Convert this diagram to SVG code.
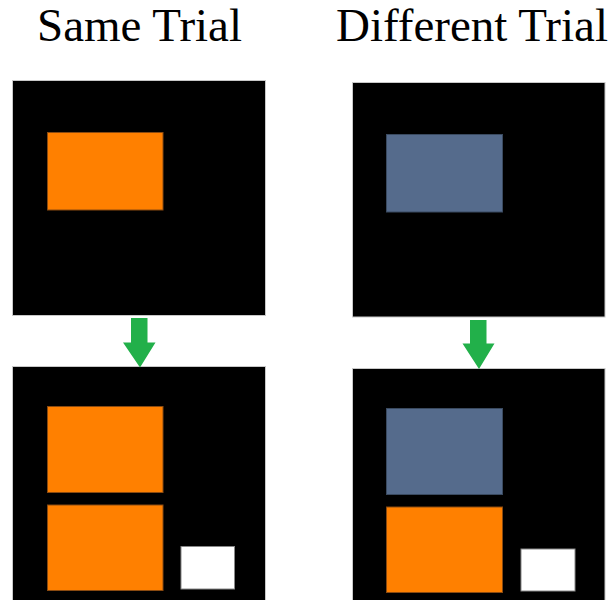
<svg xmlns="http://www.w3.org/2000/svg" width="616" height="600" viewBox="0 0 616 600">
<style>
.title{font-family:"Liberation Serif","Times New Roman",serif;font-size:47px;fill:#000}
.screen{fill:#000;stroke:#c8c8c8;stroke-width:1}
.orange{fill:#ff8000;stroke:#8a4a10;stroke-width:1}
.blue{fill:#556b8c;stroke:#3a4a60;stroke-width:1}
.probe{fill:#fff;stroke:#888;stroke-width:1}
.arrow{fill:#22b04a}
</style>
<rect width="616" height="600" fill="#fff"/>
<text class="title" x="37" y="41">Same Trial</text>
<text class="title" x="336" y="41">Different Trial</text>
<g id="same-study">
<rect class="screen" x="12.5" y="80.5" width="253" height="235"/>
<rect class="orange" x="47.5" y="132.5" width="115.5" height="77.5"/>
</g>
<g id="same-test">
<rect class="screen" x="12.5" y="366.5" width="253" height="240"/>
<rect class="orange" x="47.5" y="406.5" width="115.5" height="86"/>
<rect class="orange" x="47.5" y="505" width="115.5" height="85.5"/>
<rect class="probe" x="181" y="546.5" width="53.5" height="42.5"/>
</g>
<g id="diff-study">
<rect class="screen" x="352.5" y="82.5" width="252.5" height="234.5"/>
<rect class="blue" x="386.5" y="134.5" width="116" height="77.5"/>
</g>
<g id="diff-test">
<rect class="screen" x="352.5" y="368.5" width="252.5" height="240"/>
<rect class="blue" x="386.5" y="408.5" width="116" height="86"/>
<rect class="orange" x="386.5" y="507" width="116" height="85.5"/>
<rect class="probe" x="521" y="549" width="54" height="42"/>
</g>
<g id="connectors">
<polygon class="arrow" points="131,318 147.5,318 147.5,342.5 155.5,342.5 140,367.5 123,342.5 131,342.5"/>
<polygon class="arrow" points="470,320 486.5,320 486.5,343.5 494.5,343.5 479,369 462.5,343.5 470,343.5"/>
</g>
</svg>
